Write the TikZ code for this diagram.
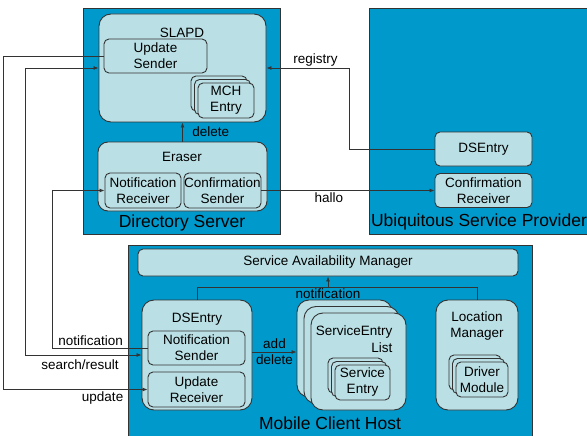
\documentclass[tikz,border=0pt]{standalone}
\usepackage{fontspec}
\setmainfont{Liberation Sans}
\usetikzlibrary{arrows.meta,shadows}

\definecolor{qqzzcc}{rgb}{0, 0.6, 0.8}
\definecolor{bbddee}{rgb}{0.73, 0.88, 0.9}
\definecolor{tttttt}{rgb}{0.2, 0.2, 0.2}

\begin{document}
\begin{tikzpicture}[x=1pt, y=-1pt,
    host/.style={draw=tttttt, fill=qqzzcc, line width=0.8pt, inner sep=0pt},
    caja/.style={draw=tttttt, fill=bbddee, line width=0.9pt, rounded corners=5pt,
        align=center, inner sep=0pt, font=\fontsize{13.5}{16}\selectfont},
    grupo/.style={caja, rounded corners=12pt},
    pila/.style={caja,
        copy shadow={shadow xshift=-7pt, shadow yshift=7pt, fill=bbddee, draw=tttttt, line width=0.9pt},
        copy shadow={shadow xshift=-3.5pt, shadow yshift=3.5pt, fill=bbddee, draw=tttttt, line width=0.9pt}},
    pilagrande/.style={grupo,
        copy shadow={shadow xshift=-14pt, shadow yshift=13pt, fill=bbddee, draw=tttttt, line width=0.9pt},
        copy shadow={shadow xshift=-7pt, shadow yshift=6.5pt, fill=bbddee, draw=tttttt, line width=0.9pt}},
    etiq/.style={inner sep=1.5pt, font=\fontsize{13.5}{16}\selectfont},
    titulo/.style={inner sep=0pt, font=\fontsize{17.5}{20}\selectfont},
    linea/.style={draw=tttttt, line width=0.8pt},
    flecha/.style={linea, -{Latex[length=5pt,width=4pt]}},
    flechas/.style={linea, {Latex[length=5pt,width=4pt]}-{Latex[length=5pt,width=4pt]}}]
        \clip (0,0) rectangle (587,436);

        \node[host, minimum width=197pt, minimum height=226pt] (ds) at (181.5,121) {}; % servidor
        \node[host, minimum width=231pt, minimum height=226pt] (usp) at (484.5,121) {}; % proveedor
        \node[host, minimum width=404pt, minimum height=200pt] (mch) at (330,345) {}; % cliente movil

        \node[titulo, anchor=base] (dslbl) at (182,227) {Directory Server};
        \node[titulo, anchor=base] (usplbl) at (479,226) {Ubiquitous Service Provider};
        \node[titulo, anchor=base] (mchlbl) at (330,429) {Mobile Client Host};

        % Directory Server
        \node[grupo, minimum width=167pt, minimum height=108pt] (slapd) at (182.5,68) {};
        \node[etiq] (slapdlbl) at (182,32.5) {SLAPD};
        \node[caja, minimum width=103pt, minimum height=34pt] (upds) at (155.5,56) {Update\\Sender};
        \node[pila, minimum width=56pt, minimum height=35pt] (mche) at (226,100.5) {MCH\\Entry};

        \node[grupo, rounded corners=10pt, minimum width=169pt, minimum height=69pt] (eraser) at (182.5,176.5) {};
        \node[etiq] (eraserlbl) at (182,157) {Eraser};
        \node[caja, minimum width=76pt, minimum height=35pt] (nrec) at (143,190.5) {Notification\\Receiver};
        \node[caja, minimum width=77pt, minimum height=35pt] (csend) at (222.5,190.5) {Confirmation\\Sender};

        % Ubiquitous Service Provider
        \node[caja, minimum width=97pt, minimum height=34pt] (dse) at (483.5,149) {DSEntry};
        \node[caja, minimum width=97pt, minimum height=34pt] (crec) at (483.5,190.5) {Confirmation\\Receiver};

        % Mobile Client Host
        \node[caja, minimum width=380pt, minimum height=27pt] (sam) at (328,262.5) {Service Availability Manager};
        \node[grupo, minimum width=110pt, minimum height=110pt] (dsm) at (197,355) {};
        \node[etiq] (dsmlbl) at (197,319.5) {DSEntry};
        \node[caja, minimum width=97pt, minimum height=34pt] (nsend) at (196.5,348) {Notification\\Sender};
        \node[caja, minimum width=97pt, minimum height=35pt] (urec) at (196.5,389.5) {Update\\Receiver};

        \node[pilagrande, minimum width=95pt, minimum height=97pt] (sel) at (358.5,361.5) {};
        \node[etiq, anchor=east, align=right, font=\fontsize{13.5}{17}\selectfont] (sellbl) at (394,338.7) {ServiceEntry\\List};
        \node[pila, minimum width=55pt, minimum height=35pt] (sent) at (362.5,382.5) {Service\\Entry};

        \node[grupo, minimum width=82pt, minimum height=110pt] (lm) at (477,355) {};
        \node[etiq, align=center] (lmlbl) at (477,326.5) {Location\\Manager};
        \node[pila, minimum width=52pt, minimum height=35pt] (drv) at (482,379.5) {Driver\\Module};

        % conexiones
        \draw[flecha] (eraser.north) -- (slapd.south) node[etiq, midway, right=8pt] (dellbl) {delete};
        \draw[flecha] (dse.west) -- ++(-85,0) |- (slapd.east) node[etiq, pos=0.705, above] (reglbl) {registry};
        \draw[flecha] (csend.east) -- (crec.west) node[etiq, pos=0.39, below] (hallolbl) {hallo};

        \draw[flecha] (upds.west) -- ++(-100,0) |- (urec.west) node[etiq, pos=0.844, below] (updlbl) {update};
        \draw[flechas] (slapd.west) -- ++(-73,0) |- (dsm.west) node[etiq, pos=0.735, below=3pt] (srlbl) {search/result};
        \draw[flecha] (nsend.west) -- ++(-95,0) node[etiq, pos=0.6, above] (notlbl) {notification} |- (nrec.west);

        \coordinate (selin) at ([xshift=-14pt, yshift=9.5pt]sel.west);
        \draw[flecha] (dsm.east |- selin) -- (selin) node[etiq, midway, align=center] (adlbl) {add\\delete};

        \draw[linea] (dsm.north) -- ++(0,-12) -| (lm.north);
        \coordinate (notif) at ([yshift=-12pt]sam.south);
        \draw[flecha] (notif) -- (sam.south);
        \node[etiq, below, inner sep=0.5pt] (notiflbl) at (notif) {notification};
\end{tikzpicture}
\end{document}
